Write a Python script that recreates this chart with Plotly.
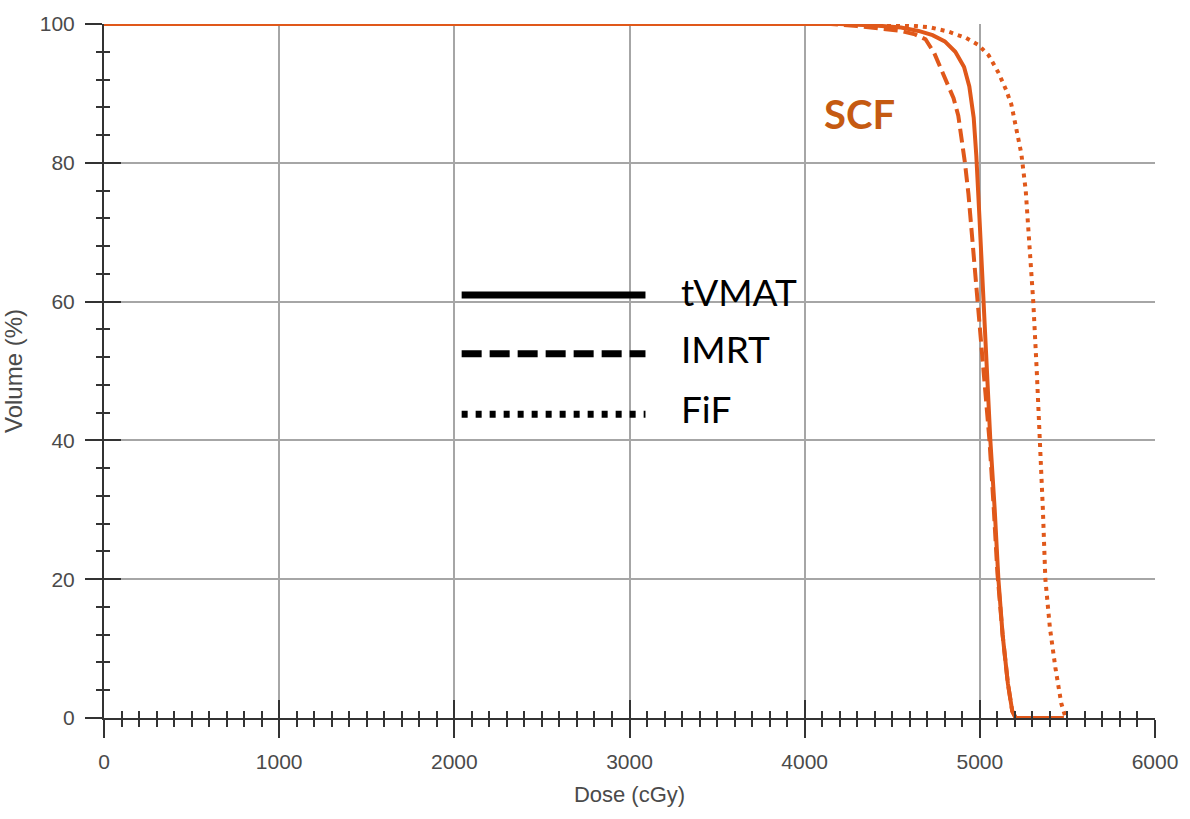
import plotly.graph_objects as go

# ---- data ----
tvmat_dose = [0, 4200, 4400, 4550, 4650, 4730, 4800, 4860, 4910, 4940, 4965, 4980, 5000, 5020, 5040, 5060, 5085, 5106, 5130, 5160, 5185, 5205, 5480]
tvmat_vol = [100, 100, 99.8, 99.5, 99.0, 98.4, 97.5, 96.0, 93.8, 91.0, 86.5, 81.0, 71.0, 60.0, 50.0, 40.0, 30.0, 20.0, 12.0, 5.0, 1.0, 0, 0]

imrt_dose = [0, 4150, 4300, 4450, 4550, 4630, 4690, 4740, 4780, 4815, 4850, 4877, 4895, 4915, 4935, 4963, 4991, 5020, 5055, 5080, 5100, 5130, 5160, 5185, 5205]
imrt_vol = [100, 100, 99.7, 99.3, 99.0, 98.5, 97.8, 95.8, 93.5, 91.5, 89.3, 86.8, 83.8, 80.0, 75.5, 67.0, 60.0, 50.0, 40.0, 30.0, 21.0, 12.0, 5.0, 1.0, 0]

fif_dose = [0, 4450, 4600, 4720, 4820, 4920, 4991, 5050, 5106, 5150, 5180, 5210, 5237, 5262, 5288, 5305, 5325, 5345, 5360, 5374, 5400, 5431, 5465, 5490]
fif_vol = [100, 100, 99.8, 99.5, 98.9, 98.0, 97.0, 95.5, 93.0, 90.5, 88.4, 85.0, 81.3, 76.0, 67.0, 60.0, 50.0, 40.0, 30.0, 20.0, 13.0, 7.3, 2.1, 0]

series_names = ["tVMAT", "IMRT", "FiF"]
x_tickvals = [0, 1000, 2000, 3000, 4000, 5000, 6000]
y_tickvals = [0, 20, 40, 60, 80, 100]
structure_label = "SCF"

CURVE = "#E0581A"
LABEL = "#C55A11"
TICKC = "#333333"
GRIDC = "#A6A6A6"
TXT = "#4A4A4A"

fig = go.Figure()
fig.add_trace(go.Scatter(x=tvmat_dose, y=tvmat_vol, mode="lines", name=series_names[0],
                         line=dict(color=CURVE, width=4), cliponaxis=False))
fig.add_trace(go.Scatter(x=imrt_dose, y=imrt_vol, mode="lines", name=series_names[1],
                         line=dict(color=CURVE, width=4, dash="14px,6px"), cliponaxis=False))
# FiF drawn on the overlay axes (identical ranges) so the crossing-tick axes are rendered
fig.add_trace(go.Scatter(x=fif_dose, y=fif_vol, mode="lines", name=series_names[2],
                         xaxis="x2", yaxis="y2",
                         line=dict(color=CURVE, width=4, dash="4px,5px"), cliponaxis=False))

tickfont = dict(family="Liberation Sans, Arial, sans-serif", size=21, color=TXT)

fig.update_layout(
    width=1190, height=819,
    margin=dict(l=104, r=34, t=19, b=101),
    paper_bgcolor="white", plot_bgcolor="white",
    showlegend=False,
    xaxis=dict(range=[0, 6000], tickvals=x_tickvals, showgrid=True, gridcolor=GRIDC, gridwidth=1.5,
               zeroline=False, showline=True, linecolor=TICKC, linewidth=2,
               ticks="outside", ticklen=18, tickwidth=2, tickcolor=TICKC,
               minor=dict(dtick=100, ticks="outside", ticklen=7, tickwidth=2, tickcolor=TICKC, showgrid=False),
               tickfont=tickfont, ticklabelstandoff=6,
               title=dict(text="Dose (cGy)", font=dict(family="Liberation Sans, Arial, sans-serif", size=22, color=TXT),
                          standoff=14)),
    yaxis=dict(range=[0, 100], tickvals=y_tickvals, showgrid=True, gridcolor=GRIDC, gridwidth=1.5,
               zeroline=False, showline=True, linecolor=TICKC, linewidth=2,
               ticks="outside", ticklen=17, tickwidth=2, tickcolor=TICKC,
               minor=dict(dtick=4, ticks="outside", ticklen=6, tickwidth=2, tickcolor=TICKC, showgrid=False),
               tickfont=tickfont, ticklabelstandoff=6,
               title=dict(text="Volume (%)", font=dict(family="Liberation Sans, Arial, sans-serif", size=24, color=TXT),
                          standoff=10)),
    xaxis2=dict(range=[0, 6000], overlaying="x", anchor="y2", side="bottom", tickvals=x_tickvals[:-1],
                showgrid=False, zeroline=False, showline=False, showticklabels=False,
                ticks="inside", ticklen=18, tickwidth=2, tickcolor=TICKC,
                minor=dict(dtick=100, ticks="inside", ticklen=7, tickwidth=2, tickcolor=TICKC, showgrid=False)),
    yaxis2=dict(range=[0, 100], overlaying="y", anchor="x2", side="left", tickvals=y_tickvals[:-1],
                showgrid=False, zeroline=False, showline=False, showticklabels=False,
                ticks="inside", ticklen=17, tickwidth=2, tickcolor=TICKC,
                minor=dict(dtick=4, ticks="inside", ticklen=6, tickwidth=2, tickcolor=TICKC, showgrid=False)),
)

# SCF label
fig.add_annotation(text=structure_label, xref="paper", yref="paper", x=0.7186, y=0.8698,
                   xanchor="center", yanchor="middle", showarrow=False,
                   font=dict(family="Lato, sans-serif", size=40, color=LABEL, weight="bold"))

# custom legend (long line samples + labels)
leg_dash = ["solid", "20px,8px", "6px,8px"]
leg_y_line = [0.6094, 0.5250, 0.4378]
leg_y_text = [0.6152, 0.5322, 0.4464]
for name, dsh, yl, yt in zip(series_names, leg_dash, leg_y_line, leg_y_text):
    fig.add_shape(type="line", xref="paper", yref="paper", x0=0.3403, x1=0.5152, y0=yl, y1=yl,
                  line=dict(color="black", width=7, dash=dsh))
    fig.add_annotation(text=name, xref="paper", yref="paper", x=0.5475, y=yt, xanchor="left",
                       yanchor="middle", showarrow=False,
                       font=dict(family="Lato, sans-serif", size=37, color="black"))

fig.write_html("out.html")
